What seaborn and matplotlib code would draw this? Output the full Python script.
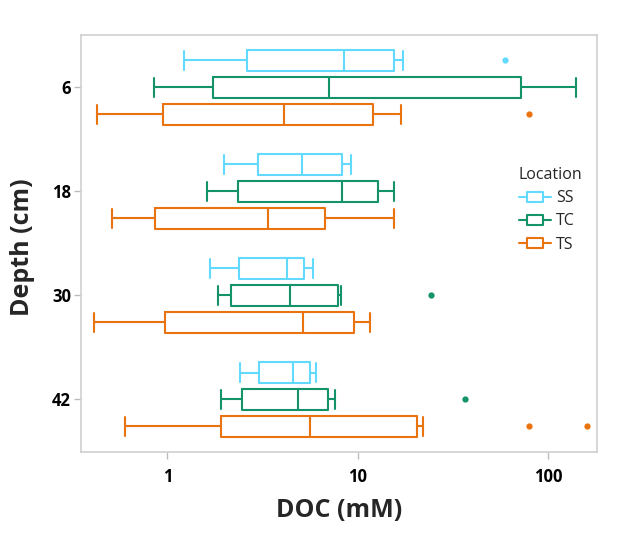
import numpy as np
import pandas as pd
import matplotlib
matplotlib.use("Agg")
import matplotlib.pyplot as plt
from matplotlib.lines import Line2D
from matplotlib.path import Path
import seaborn as sns

# ---- data ----
depths = ["6", "18", "30", "42"]
locations = ["SS", "TC", "TS"]
colors = {"SS": "#62DAFF", "TC": "#14936A", "TS": "#E8730F"}

# five-number summaries per depth (order of depths), per location
ss_low = [1.23, 1.99, 1.67, 2.42]
ss_q1 = [2.61, 3.00, 2.39, 3.04]
ss_med = [8.45, 5.08, 4.23, 4.57]
ss_q3 = [15.4, 8.27, 5.21, 5.63]
ss_high = [17.3, 9.26, 5.85, 6.02]
ss_out = [[59.0], [], [], []]

tc_low = [0.85, 1.62, 1.85, 1.91]
tc_q1 = [1.74, 2.34, 2.17, 2.48]
tc_med = [7.1, 8.27, 4.41, 4.88]
tc_q3 = [71.5, 12.8, 7.83, 6.96]
tc_high = [140.0, 15.5, 8.18, 7.59]
tc_out = [[], [], [24.2], [36.3]]

ts_low = [0.43, 0.51, 0.41, 0.60]
ts_q1 = [0.95, 0.86, 0.97, 1.91]
ts_med = [4.12, 3.39, 5.16, 5.62]
ts_q3 = [12.0, 6.74, 9.5, 20.4]
ts_high = [16.8, 15.4, 11.6, 22.0]
ts_out = [[79.5], [], [], [79.5, 160.0]]

summaries = {
    "SS": (ss_low, ss_q1, ss_med, ss_q3, ss_high, ss_out),
    "TC": (tc_low, tc_q1, tc_med, tc_q3, tc_high, tc_out),
    "TS": (ts_low, ts_q1, ts_med, ts_q3, ts_high, ts_out),
}

# long-form table whose quartiles/whiskers reproduce the summaries
rows = []
for loc in locations:
    lo, q1, md, q3, hi, outs = summaries[loc]
    for i, d in enumerate(depths):
        vals = [lo[i]] + [q1[i]] * 4 + [md[i]] * 4 + [q3[i]] * 4 + [hi[i]] + list(outs[i])
        for v in vals:
            rows.append({"Depth": d, "Location": loc, "DOC": v})
df = pd.DataFrame(rows)

# ---- style ----
sns.set_style("white")
plt.rcParams["font.family"] = ["Open Sans", "DejaVu Sans"]

fig = plt.figure(figsize=(6.22, 5.37), dpi=100)
ax = fig.add_axes([80.7 / 622, 1 - 451.5 / 537, (597.3 - 80.7) / 622, (451.5 - 35.3) / 537])

sns.boxplot(
    data=df, x="DOC", y="Depth", hue="Location",
    order=depths, hue_order=locations, palette=colors,
    fill=False, width=0.777, gap=0.236, linewidth=1.5,
    whis=1.5, legend=False, ax=ax,
    flierprops=dict(marker="o", markersize=4.5, markeredgewidth=0),
)

ax.set_xscale("log")
ax.set_xlim(0.351, 180.7)
ax.set_ylim(3.5, -0.5)

# fliers filled with their colour; caps nearly as tall as boxes
box_h = 0.777 / 3 * (1 - 0.236)
for ln in ax.lines:
    if ln.get_linestyle() in ("None", "none", ""):
        c = ln.get_markeredgecolor()
        ln.set_markerfacecolor(c)
        continue
    x = np.asarray(ln.get_xdata(), dtype=float)
    y = np.asarray(ln.get_ydata(), dtype=float)
    if len(x) == 2 and np.isclose(x[0], x[1]):
        length = abs(y[1] - y[0])
        if length < 0.8 * box_h:
            cy = y.mean()
            ln.set_ydata([cy - 0.45 * box_h, cy + 0.45 * box_h])

ax.xaxis.set_major_locator(matplotlib.ticker.FixedLocator([1, 10, 100]))
ax.xaxis.set_minor_locator(matplotlib.ticker.NullLocator())
ax.set_xticklabels(["1", "10", "100"])

for sp in ax.spines.values():
    sp.set_color("#cfcfcf")
    sp.set_linewidth(1.2)

ax.tick_params(axis="both", which="major", length=5, width=1, color="#bdbdbd",
               labelsize=12, pad=2, bottom=True, left=True)
ax.tick_params(axis="x", pad=7)
for lab in ax.get_xticklabels() + ax.get_yticklabels():
    lab.set_fontweight("bold")
    lab.set_color("black")

ax.set_xlabel("DOC (mM)", fontsize=18, fontweight="bold")
ax.set_ylabel("Depth (cm)", fontsize=18, fontweight="bold")
ax.xaxis.set_label_coords(0.5, -(510.7 - 451.5) / (451.5 - 35.3), transform=ax.transAxes)
ax.yaxis.set_label_coords(-(80.7 - 22.4) / (597.3 - 80.7), 0.5 + (243.4 - 247.5) / (451.5 - 35.3))
ax.xaxis.label.set_va("center")
ax.yaxis.label.set_va("center")

# legend with box-glyph handles
rect = Path([(-1, -0.6), (1, -0.6), (1, 0.6), (-1, 0.6), (-1, -0.6)],
            [Path.MOVETO, Path.LINETO, Path.LINETO, Path.LINETO, Path.CLOSEPOLY])
handles = [Line2D([0], [0], color=colors[l], lw=1.5, marker=rect, markersize=11,
                  markerfacecolor="white", markeredgecolor=colors[l], markeredgewidth=1.5)
           for l in locations]
leg = ax.legend(handles, locations, title="Location", frameon=False,
                loc="upper left",
                bbox_to_anchor=((511 - 80.7) / (597.3 - 80.7), 1 - (159 - 35.3) / (451.5 - 35.3)),
                fontsize=11.5, title_fontsize=11.5, handlelength=2.0, handletextpad=0.3,
                labelspacing=0.45, borderpad=0, alignment="left")

fig.savefig("out.png", dpi=100)
